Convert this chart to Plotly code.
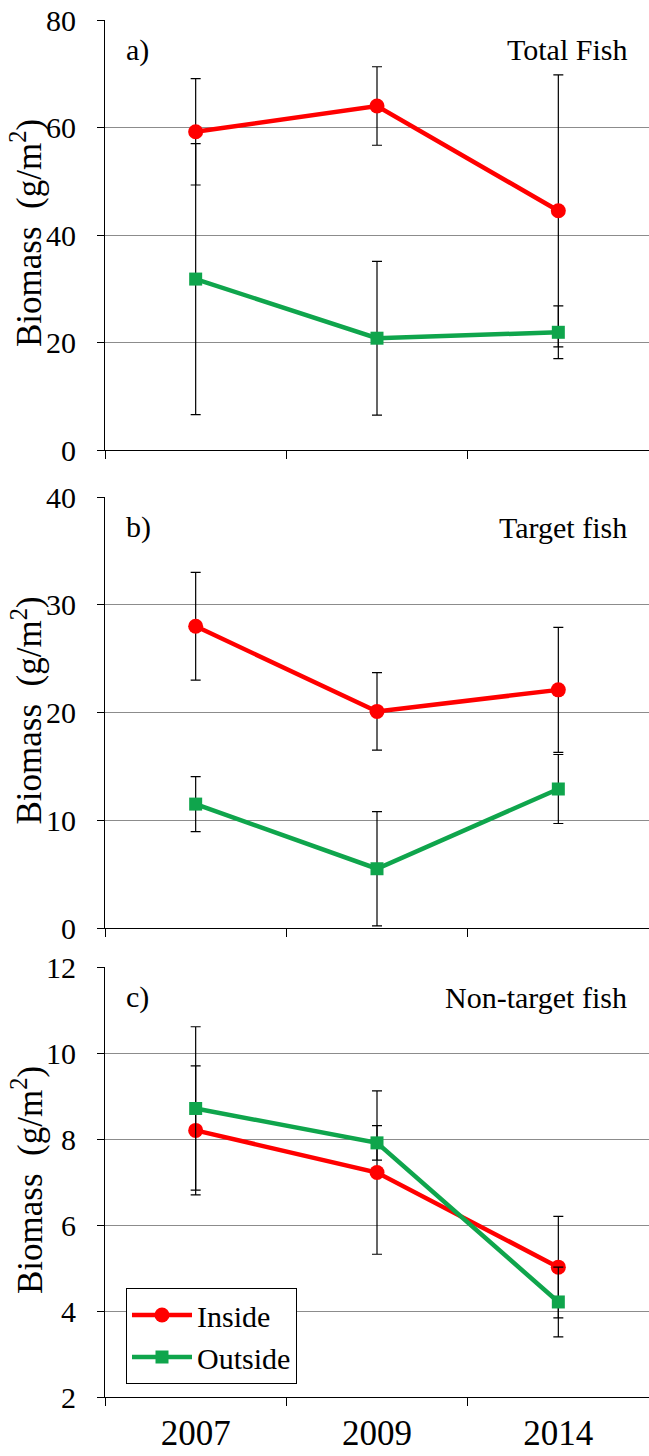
import plotly.graph_objects as go

years = ["2007", "2009", "2014"]

# Panel a) Total Fish
total_inside = [59.2, 64.0, 44.5]
total_inside_err = [9.9, 7.3, 25.3]
total_outside = [31.8, 20.8, 21.9]
total_outside_err = [25.2, 14.3, 4.9]

# Panel b) Target fish
target_inside = [28.0, 20.1, 22.1]
target_inside_err = [5.0, 3.6, 5.8]
target_outside = [11.5, 5.5, 12.9]
target_outside_err = [2.55, 5.3, 3.2]

# Panel c) Non-target fish
nontarget_inside = [8.2, 7.22, 5.02]
nontarget_inside_err = [1.5, 1.9, 1.18]
nontarget_outside = [8.71, 7.91, 4.21]
nontarget_outside_err = [1.9, 0.4, 0.81]

panel_letters = ["a)", "b)", "c)"]
panel_titles = ["Total Fish", "Target fish", "Non-target fish"]
y_ranges = [[0, 80], [0, 40], [2, 12]]
y_dticks = [20, 10, 2]

RED = "#FF0000"
GREEN = "#0FA54C"
FONT = "Liberation Serif, Times New Roman, serif"

W, H = 649, 1456
L, R, T, B = 105, 0, 0, 0
PW, PH = W - L - R, H - T - B

# pixel extents (top, bottom) of each panel
panel_px = [(20, 450), (497, 928), (967, 1397)]


def py(p):
    return 1 - (p - T) / PH


def px(p):
    return (p - L) / PW


fig = go.Figure()

data = [
    (total_inside, total_inside_err, total_outside, total_outside_err),
    (target_inside, target_inside_err, target_outside, target_outside_err),
    (nontarget_inside, nontarget_inside_err, nontarget_outside, nontarget_outside_err),
]

for i, (vin, ein, vout, eout) in enumerate(data):
    xa = "x" if i == 0 else f"x{i+1}"
    ya = "y" if i == 0 else f"y{i+1}"
    fig.add_trace(go.Scatter(
        x=years, y=vin, xaxis=xa, yaxis=ya, name="Inside",
        mode="lines+markers",
        line=dict(color=RED, width=4.5),
        marker=dict(symbol="circle", size=15, color=RED),
        error_y=dict(type="data", array=ein, visible=True, color="black",
                     thickness=1.2, width=5),
        showlegend=(i == 2),
    ))
    fig.add_trace(go.Scatter(
        x=years, y=vout, xaxis=xa, yaxis=ya, name="Outside",
        mode="lines+markers",
        line=dict(color=GREEN, width=4.5),
        marker=dict(symbol="square", size=13, color=GREEN),
        error_y=dict(type="data", array=eout, visible=True, color="black",
                     thickness=1.2, width=5),
        showlegend=(i == 2),
    ))

layout = dict(
    width=W, height=H,
    margin=dict(l=L, r=R, t=T, b=B, autoexpand=False),
    paper_bgcolor="white", plot_bgcolor="white",
    font=dict(family=FONT, color="black"),
    showlegend=True,
    legend=dict(
        x=px(126), y=py(1288), xanchor="left", yanchor="top",
        bgcolor="white", bordercolor="black", borderwidth=1,
        font=dict(family=FONT, size=30, color="black"),
        itemwidth=60, tracegroupgap=0,
    ),
)

annotations = []
for i in range(3):
    top, bot = panel_px[i]
    xk = "xaxis" if i == 0 else f"xaxis{i+1}"
    yk = "yaxis" if i == 0 else f"yaxis{i+1}"
    anchor_x = "x" if i == 0 else f"x{i+1}"
    anchor_y = "y" if i == 0 else f"y{i+1}"
    layout[xk] = dict(
        domain=[0, 1], anchor=anchor_y,
        type="category", range=[-0.5, 2.5],
        tickson="boundaries", ticks="outside", ticklen=8, tickcolor="black",
        tickwidth=1,
        showline=True, linecolor="black", linewidth=1,
        showgrid=False, zeroline=False,
        showticklabels=(i == 2),
        tickfont=dict(family=FONT, size=35, color="black"),
        ticklabelstandoff=5,
    )
    layout[yk] = dict(
        domain=[py(bot), py(top)], anchor=anchor_x,
        range=y_ranges[i], dtick=y_dticks[i], tick0=0,
        ticks="outside", ticklen=7, tickcolor="black", tickwidth=1,
        showline=True, linecolor="black", linewidth=1,
        showgrid=True, gridcolor="#8C8C8C", gridwidth=1,
        zeroline=False,
        tickfont=dict(family=FONT, size=30, color="black"),
        ticklabelstandoff=15,
    )
    # y-axis title
    annotations.append(dict(
        xref="paper", yref="paper", x=px(27), y=py((top + bot) / 2 - 2),
        text="Biomass  (g/m<sup>2</sup>)", textangle=-90, showarrow=False,
        xanchor="center", yanchor="middle",
        font=dict(family=FONT, size=35, color="black"),
    ))
    # panel letter
    annotations.append(dict(
        xref="paper", yref="paper", x=px(124), y=py(top + 30),
        text=panel_letters[i], showarrow=False, xanchor="left", yanchor="middle",
        font=dict(family=FONT, size=30, color="black"),
    ))
    # panel title
    annotations.append(dict(
        xref="paper", yref="paper", x=px(629), y=py(top + 30),
        text=panel_titles[i], showarrow=False, xanchor="right", yanchor="middle",
        font=dict(family=FONT, size=30, color="black"),
    ))

layout["annotations"] = annotations
fig.update_layout(**layout)

fig.write_html("out.html")
